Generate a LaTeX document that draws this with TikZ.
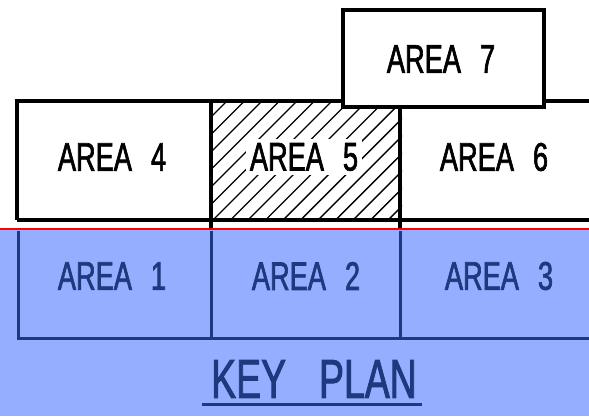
\documentclass[tikz,border=0pt]{standalone}
\usepackage{fontspec}
\newfontfamily\cad[FakeStretch=0.68,FakeBold=1.6]{Liberation Sans}
\definecolor{keyblue}{RGB}{150,174,255}
\definecolor{navy}{RGB}{28,58,125}
\definecolor{redline}{RGB}{255,0,0}
\begin{document}
\begin{tikzpicture}[x=1pt,y=-1pt,
  blk/.style={draw=black,line width=3.6pt},
  nvy/.style={draw=navy,line width=3pt},
  hatchline/.style={draw=black,line width=1.4pt},
  areatext/.style={font=\cad\fontsize{40}{40}\selectfont,inner sep=0pt},
  keytext/.style={font=\cad\fontsize{55}{55}\selectfont,inner sep=0pt,text=navy}]
\useasboundingbox (0,0) rectangle (589,416);
\fill[white] (0,0) rectangle (589,416);
% blue key area
\fill[keyblue] (0,230) rectangle (589,416);
% hatching of area 5
\begin{scope}
  \clip (211,101) rectangle (402,220);
  \foreach \i in {-8,...,12}
    \draw[hatchline] ({211+\i*17.5},222) -- ++(140,-140);
\end{scope}
\node[areatext,fill=white,inner sep=4pt] (t5) at (304,157) {AREA\hspace{19pt}5};
% top row outline
\draw[blk] (17,220) -- (17,101) -- (595,101);
\draw[blk] (17,220) -- (595,220);
\draw[blk] (211,101) -- (211,230);
\draw[blk] (400,101) -- (400,230);
% area 7 box
\draw[blk,fill=white] (343,10) rectangle (544,107);
% red line
\draw[draw=redline,line width=2.4pt] (0,229) -- (589,229);
% bottom row outline
\draw[nvy] (18,231) -- (18,338) -- (595,338);
\draw[nvy] (211,231) -- (211,338);
\draw[nvy] (400,231) -- (400,338);
% texts
\node[areatext] (t4) at (112,157) {AREA\hspace{19pt}4};
\node[areatext] (t6) at (494,157) {AREA\hspace{19pt}6};
\node[areatext] (t7) at (441,59) {AREA\hspace{19pt}7};
\node[areatext,text=navy] (t1) at (112,276) {AREA\hspace{19pt}1};
\node[areatext,text=navy] (t2) at (306,276) {AREA\hspace{19pt}2};
\node[areatext,text=navy] (t3) at (499,276) {AREA\hspace{19pt}3};
\node[keytext] (key) at (314,379) {KEY\hspace{33pt}PLAN};
\draw[nvy] (202,404) -- (422,404);
\end{tikzpicture}
\end{document}
